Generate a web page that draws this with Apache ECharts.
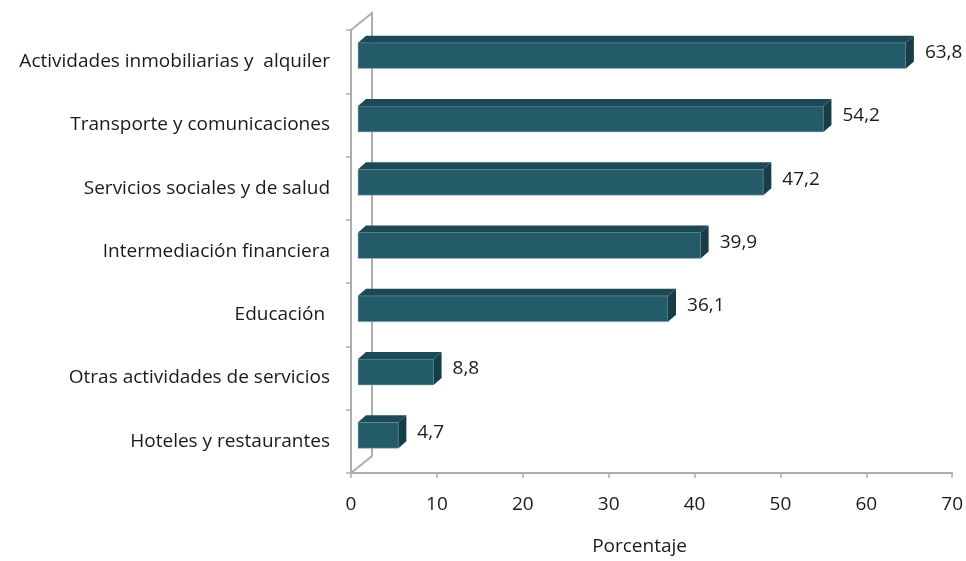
<!DOCTYPE html>
<html>
<head>
<meta charset="utf-8">
<script src="https://cdn.jsdelivr.net/npm/echarts@6/dist/echarts.min.js"></script>
<style>
  html, body { margin: 0; padding: 0; background: #fff; }
  #chart { width: 966px; height: 561px; }
</style>
</head>
<body>
<div id="chart"></div>
<script>
// categorias de abajo hacia arriba (el eje de categorias empieza abajo)
var categorias = ['Hoteles y restaurantes', 'Otras actividades de servicios', 'Educación ', 'Intermediación financiera', 'Servicios sociales y de salud', 'Transporte y comunicaciones', 'Actividades inmobiliarias y  alquiler'];
var porcentajes = [4.7, 8.8, 36.1, 39.9, 47.2, 54.2, 63.8];
var ejeX = [0, 10, 20, 30, 40, 50, 60, 70];

var fuente = 'Open Sans';
var tam = 19;
var myChart = echarts.init(document.getElementById('chart'));

// efecto 3d como en excel
var dx = 7;               // desplazamiento de la cara frontal
var px = 8, py = -7;      // profundidad de la barra
var wx = 21, wy = -17;    // profundidad de la pared

function barra3d(params, api) {
	var cat = api.value(1);
	var val = api.value(0);
	var ini = api.coord([0, cat]);
	var fin = api.coord([val, cat]);
	var banda = api.size([0, 1])[1];
	var h = banda * 0.41;
	var cy = ini[1] - banda * 0.095;
	var x0 = ini[0] + dx, x1 = fin[0] + dx;
	var y0 = cy - h / 2, y1 = cy + h / 2;
	return {
		type: 'group',
		children: [
			{type: 'rect', shape: {x: x0, y: y0, width: x1 - x0, height: h}, style: {fill: '#245B69', stroke: '#9fbcc4', lineWidth: 0.6}},
			{type: 'polygon', shape: {points: [[x0, y0], [x1, y0], [x1 + px, y0 + py], [x0 + px, y0 + py]]}, style: {fill: '#1B4A56'}},
			{type: 'polygon', shape: {points: [[x1, y0], [x1 + px, y0 + py], [x1 + px, y1 + py], [x1, y1]]}, style: {fill: '#173D46'}},
			{type: 'text', x: x1 + px + 11, y: cy - 3, style: {
				text: val.toFixed(1).replace('.', ','), fill: '#1a1a1a', font: tam + 'px ' + fuente,
				verticalAlign: 'middle', align: 'left'}}
		]
	};
}

function pared(params, api) {
	var abajo = api.coord([0, 0]);
	var arriba = api.coord([0, categorias.length - 1]);
	var banda = api.size([0, 1])[1];
	var x = abajo[0];
	var yb = abajo[1] + banda / 2;
	var yt = arriba[1] - banda / 2;
	return {
		type: 'polyline',
		shape: {points: [[x, yt], [x + wx, yt + wy], [x + wx, yb + wy], [x, yb]]},
		style: {stroke: '#ADADAD', lineWidth: 2, fill: 'none'}
	};
}

option = {
	animation: false,
	grid: {
		left: 351,
		right: 13,
		top: 30,
		bottom: 85
	},
	xAxis: {
		type: 'value',
		min: ejeX[0],
		max: ejeX[ejeX.length - 1],
		interval: 10,
		name: 'Porcentaje',
		nameLocation: 'middle',
		nameGap: 64,
		nameTextStyle: {color: '#1a1a1a', fontSize: tam, fontFamily: fuente, padding: [0, 24, 0, 0]},
		axisLine: {show: true, lineStyle: {color: '#ADADAD', width: 2}},
		axisTick: {show: true, length: 5, lineStyle: {color: '#ADADAD', width: 1.5}},
		axisLabel: {color: '#1a1a1a', fontSize: tam, fontFamily: fuente, margin: 22},
		splitLine: {show: false}
	},
	yAxis: {
		type: 'category',
		data: categorias,
		axisLine: {show: true, lineStyle: {color: '#ADADAD', width: 2}},
		axisTick: {show: true, length: 5, lineStyle: {color: '#ADADAD', width: 1.5}},
		axisLabel: {color: '#1a1a1a', fontSize: tam, fontFamily: fuente, margin: 21}
	},
	series: [
		{
			type: 'custom',
			name: 'pared',
			renderItem: pared,
			data: [[0, 0]],
			z: 1,
			silent: true
		},
		{
			type: 'custom',
			name: 'Porcentaje',
			renderItem: barra3d,
			encode: {x: 0, y: 1},
			data: porcentajes.map(function (v, i) { return [v, i]; }),
			z: 2
		}
	]
};

myChart.setOption(option);
</script>
</body>
</html>
